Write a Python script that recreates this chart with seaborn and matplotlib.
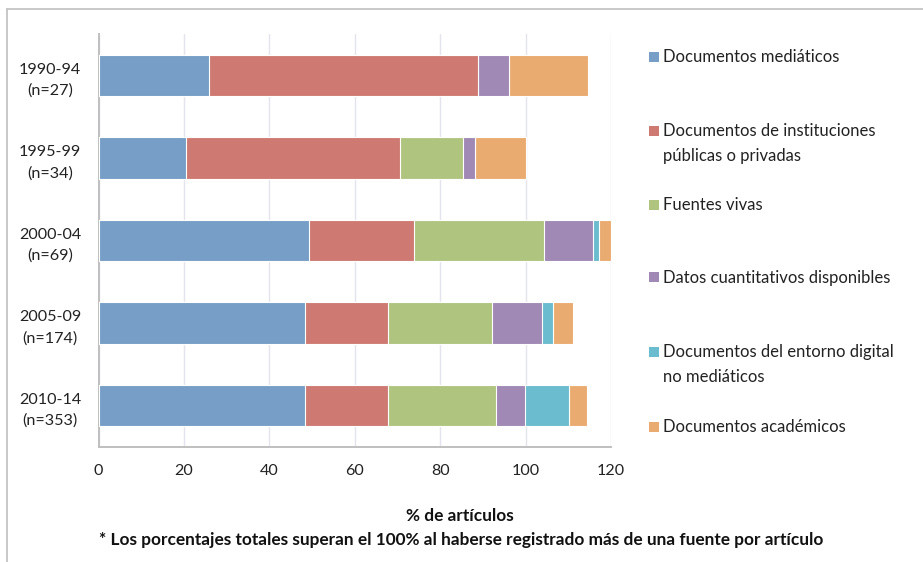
import matplotlib
matplotlib.use("Agg")
import matplotlib.pyplot as plt
from matplotlib.patches import Rectangle
from matplotlib.lines import Line2D
import numpy as np
import pandas as pd
import seaborn as sns

# Periods (with number of articles) and share of articles using each source type (%)
periods = ["1990-94\n(n=27)", "1995-99\n(n=34)", "2000-04\n(n=69)",
           "2005-09\n(n=174)", "2010-14\n(n=353)"]
documentos_mediaticos = [25.9, 20.6, 49.2, 48.3, 48.4]
documentos_instituciones = [62.9, 50.0, 24.6, 19.4, 19.5]
fuentes_vivas = [0.0, 14.7, 30.4, 24.4, 25.2]
datos_cuantitativos = [7.4, 2.9, 11.6, 11.8, 6.8]
documentos_digitales = [0.0, 0.0, 1.4, 2.5, 10.2]
documentos_academicos = [18.5, 11.8, 2.9, 4.8, 4.2]

series_names = ["Documentos mediáticos",
                "Documentos de instituciones\npúblicas o privadas",
                "Fuentes vivas",
                "Datos cuantitativos disponibles",
                "Documentos del entorno digital\nno mediáticos",
                "Documentos académicos"]
series_values = [documentos_mediaticos, documentos_instituciones, fuentes_vivas,
                 datos_cuantitativos, documentos_digitales, documentos_academicos]
series_colors = ["#779EC6", "#CE7A72", "#AFC47F", "#A089B5", "#6BBCCE", "#EAAB71"]

xticks = [0, 20, 40, 60, 80, 100, 120]
xlabel = "% de artículos"
footnote = "* Los porcentajes totales superan el 100% al haberse registrado más de una fuente por artículo"

sns.set_style("white")
plt.rcParams["font.family"] = ["Lato", "DejaVu Sans"]
FS_TICK = 11.6
FS_LEG = 12
FS_BOLD = 12.4

W, H = 923, 562
fig = plt.figure(figsize=(W / 100, H / 100), dpi=100)
ax = fig.add_axes([98.5 / W, 1 - 447 / H, (611 - 98.5) / W, (447 - 34) / H])

# Stacked bars: cumulative totals drawn from the outermost segment inwards
table = pd.DataFrame({name: vals for name, vals in zip(series_names, series_values)})
table["period"] = periods
cum = table[series_names].cumsum(axis=1)
for name, color in reversed(list(zip(series_names, series_colors))):
    sns.barplot(x=cum[name], y=table["period"], orient="h", color=color,
                saturation=1, width=0.5, edgecolor="white", linewidth=0.8,
                ax=ax, zorder=3)

ax.set_xlim(0, 120)
ax.set_ylim(4.5, -0.5)
ax.set_xticks(xticks)
ax.set_xticklabels([str(t) for t in xticks], fontsize=FS_TICK)
ax.set_yticks(range(len(periods)))
ax.set_yticklabels(periods, fontsize=FS_TICK, ha="center", linespacing=1.6)
ax.set_yticks(np.arange(-0.5, len(periods), 1.0), minor=True)
ax.tick_params(axis="y", which="major", length=0, pad=34.9, colors="#222222")
ax.tick_params(axis="y", which="minor", length=4.5, width=1.2, color="#BFBFBF", direction="out")
ax.tick_params(axis="x", which="major", length=4.5, width=1.2, color="#BFBFBF",
               direction="out", pad=8, labelcolor="#222222")

ax.set_axisbelow(True)
ax.xaxis.grid(True, color="#E4E4EC", linewidth=1.0)
ax.yaxis.grid(False)
for side in ["top", "right"]:
    ax.spines[side].set_visible(False)
for side in ["left", "bottom"]:
    ax.spines[side].set_color("#BFBFBF")
    ax.spines[side].set_linewidth(1.4)

ax.set_ylabel("")
ax.set_xlabel("")
fig.text(460 / W, 1 - 516 / H, xlabel, fontsize=FS_BOLD, fontweight="bold",
         ha="center", va="center", color="#111111")
fig.text(461 / W, 1 - 540 / H, footnote, fontsize=FS_BOLD, fontweight="bold",
         ha="center", va="center", color="#111111")

# Legend: square markers aligned with the first line of each entry
legend_y = [57, 131, 205, 277, 352, 426.5]
for name, color, yc in zip(series_names, series_colors, legend_y):
    fig.add_artist(Rectangle((649 / W, 1 - (yc + 5) / H), 10 / W, 10 / H,
                             transform=fig.transFigure, facecolor=color,
                             edgecolor="none"))
    for i, line in enumerate(name.split("\n")):
        fig.text(663 / W, 1 - (yc + 5.5 + 24.5 * i) / H, line, fontsize=FS_LEG,
                 ha="left", va="baseline", color="#222222")

# Chart frame
fig.add_artist(Line2D([6.5 / W, 6.5 / W], [0, 1 - 9 / H], transform=fig.transFigure,
                      color="#BFBFBF", linewidth=1.2))
fig.add_artist(Line2D([6.5 / W, 1], [1 - 9 / H, 1 - 9 / H], transform=fig.transFigure,
                      color="#BFBFBF", linewidth=1.2))

fig.savefig("out.png", dpi=100, facecolor="white")
